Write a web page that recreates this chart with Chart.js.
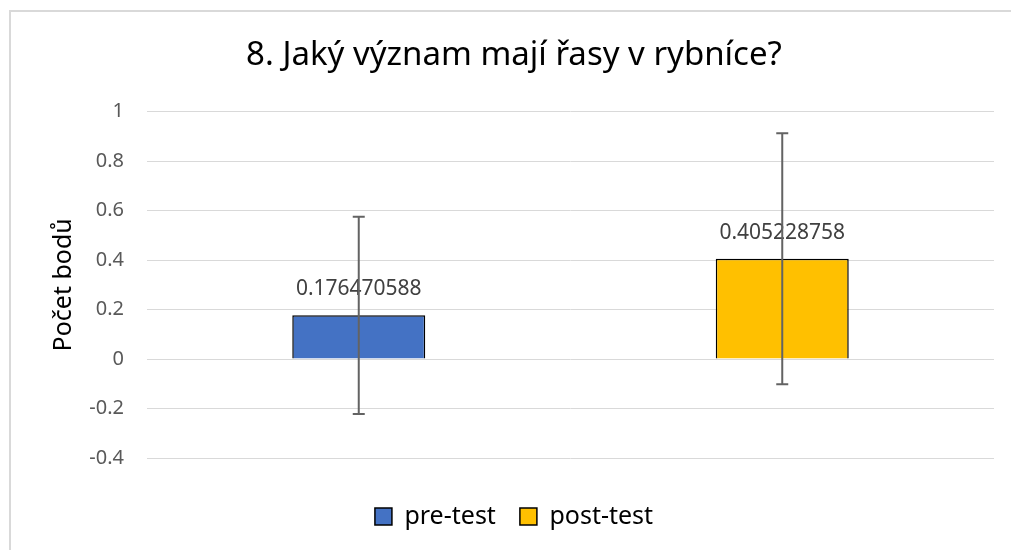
<!DOCTYPE html>
<html>
<head>
<meta charset="utf-8">
<script src="https://cdn.jsdelivr.net/npm/chart.js@4"></script>
<style>
    body { margin: 0; overflow: hidden; background: #fff; }
    #wrap { position: relative; width: 1011px; height: 550px; }
    #frame {
        position: absolute; left: 9px; top: 10px; width: 1100px; height: 600px;
        border-left: 2px solid #d9d9d9; border-top: 2px solid #d9d9d9;
        pointer-events: none;
    }
</style>
</head>
<body>
<div id="wrap">
    <canvas id="chart" width="1011" height="550"></canvas>
    <div id="frame"></div>
</div>
<script>
// chart data
const categories = ['pre-test', 'post-test'];
const meanScores = [0.176470588, 0.405228758];
const errorPlus = [0.399, 0.507];
const errorMinus = [0.399, 0.507];
const barColors = ['#4472C4', '#FFC000'];
const yTicks = [-0.4, -0.2, 0, 0.2, 0.4, 0.6, 0.8, 1];

const FONT = '"Noto Sans", "Open Sans", sans-serif';

// value labels above each bar
const valueLabels = {
    id: 'valueLabels',
    afterDatasetsDraw: function(chart) {
        const ctx = chart.ctx;
        const meta = chart.getDatasetMeta(0);
        ctx.save();
        ctx.font = '21px ' + FONT;
        ctx.fillStyle = '#404040';
        ctx.textAlign = 'center';
        ctx.textBaseline = 'middle';
        meta.data.forEach((bar, i) => {
            ctx.fillText(meanScores[i].toFixed(9), bar.x, bar.y - 26);
        });
        ctx.restore();
    }
};

// error bars, drawn on top of bars and labels
const errorBars = {
    id: 'errorBars',
    afterDatasetsDraw: function(chart) {
        const ctx = chart.ctx;
        const y = chart.scales.y;
        const meta = chart.getDatasetMeta(0);
        ctx.save();
        ctx.strokeStyle = '#636363';
        ctx.lineWidth = 2;
        meta.data.forEach((bar, i) => {
            const top = y.getPixelForValue(meanScores[i] + errorPlus[i]);
            const bottom = y.getPixelForValue(meanScores[i] - errorMinus[i]);
            ctx.beginPath();
            ctx.moveTo(bar.x, top);
            ctx.lineTo(bar.x, bottom);
            ctx.moveTo(bar.x - 6, top);
            ctx.lineTo(bar.x + 6, top);
            ctx.moveTo(bar.x - 6, bottom);
            ctx.lineTo(bar.x + 6, bottom);
            ctx.stroke();
        });
        ctx.restore();
    }
};

new Chart(document.getElementById('chart'), {
    type: 'bar',
    data: {
        labels: categories,
        datasets: [{
            data: meanScores,
            backgroundColor: barColors,
            borderColor: '#000000',
            borderWidth: 1.5,
            categoryPercentage: 1,
            barPercentage: 0.314
        }]
    },
    options: {
        responsive: false,
        animation: false,
        layout: {
            padding: { left: 34, right: 17, top: 10, bottom: 11 }
        },
        plugins: {
            title: {
                display: true,
                text: '8. Jaký význam mají řasy v rybníce?',
                color: '#000000',
                font: { family: FONT, size: 33, weight: 'normal' },
                padding: { top: 26, bottom: 36 }
            },
            legend: {
                position: 'bottom',
                labels: {
                    color: '#000000',
                    font: { family: FONT, size: 25 },
                    boxWidth: 17,
                    boxHeight: 17,
                    padding: 24,
                    generateLabels: function() {
                        return categories.map((name, i) => ({
                            text: name,
                            fillStyle: barColors[i],
                            strokeStyle: '#000000',
                            lineWidth: 1.5,
                            index: i
                        }));
                    }
                }
            },
            tooltip: { enabled: false }
        },
        scales: {
            x: {
                grid: { display: false },
                border: { display: false },
                ticks: { display: false },
                afterFit: function(scale) { scale.height = 22; }
            },
            y: {
                min: -0.4,
                max: 1,
                afterBuildTicks: function(scale) {
                    scale.ticks = yTicks.map(v => ({ value: v }));
                },
                ticks: {
                    color: '#595959',
                    font: { family: FONT, size: 20 },
                    padding: 23,
                    callback: v => String(Number(v.toFixed(1)))
                },
                grid: { color: '#d9d9d9', lineWidth: 1, drawTicks: false },
                border: { display: false },
                title: {
                    display: true,
                    text: 'Počet bodů',
                    color: '#000000',
                    font: { family: FONT, size: 25 },
                    padding: { top: 15, bottom: 0 }
                },
                afterFit: function(scale) { scale.width = 113; }
            }
        }
    },
    plugins: [valueLabels, errorBars]
});
</script>
</body>
</html>
